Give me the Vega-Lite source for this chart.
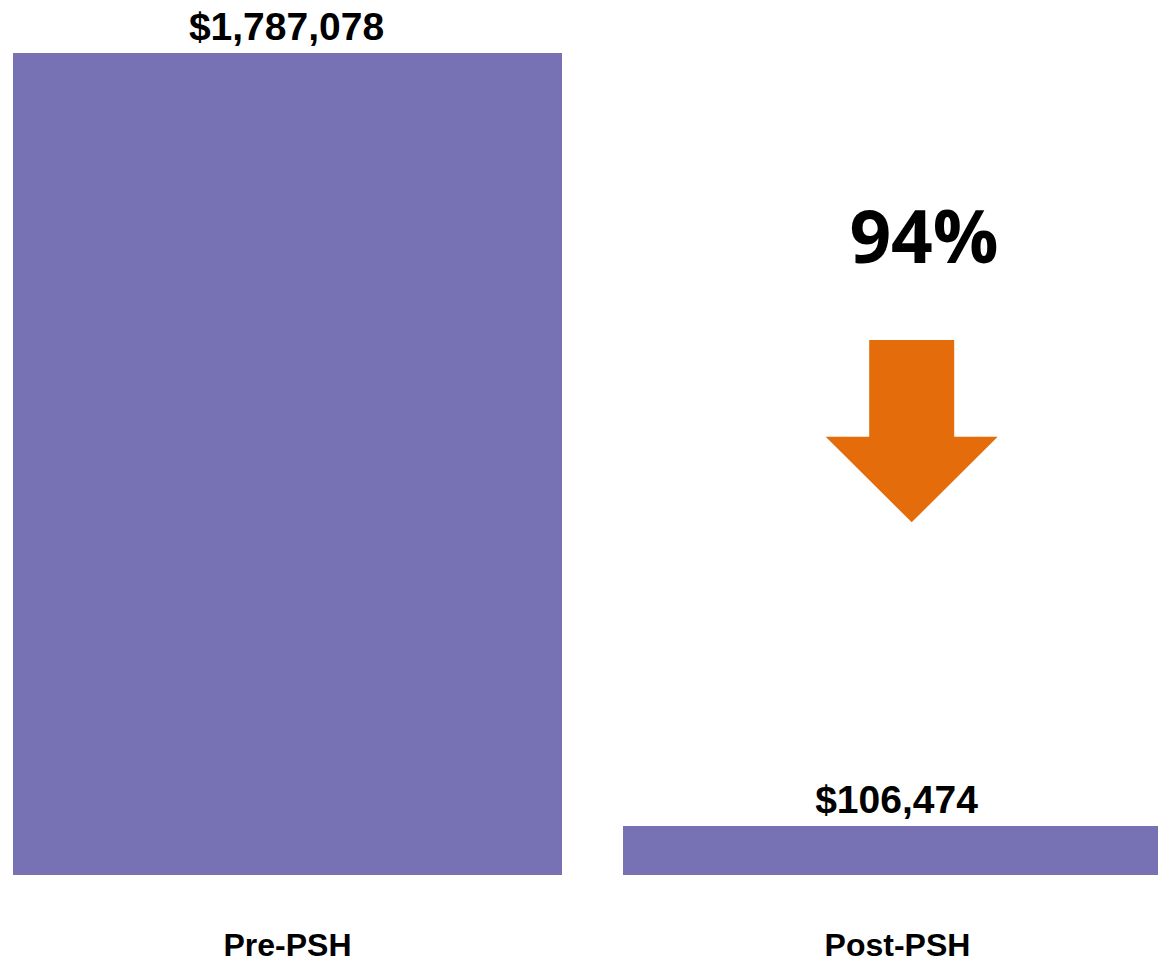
{
  "$schema": "https://vega.github.io/schema/vega-lite/v6.json",
  "autosize": {"type": "none"},
  "padding": {"left": 13, "top": 53, "right": 0, "bottom": 86},
  "width": 1145,
  "height": 822,
  "background": "white",
  "config": {"view": {"stroke": null}},
  "datasets": {
    "bars": [
      {"category": "Pre-PSH", "cost": 1787078},
      {"category": "Post-PSH", "cost": 106474}
    ],
    "notes": [
      {"category": "Post-PSH", "note": "94%", "arrowAt": 964848, "textAt": 1330525}
    ]
  },
  "encoding": {
    "x": {
      "field": "category",
      "type": "nominal",
      "sort": ["Pre-PSH", "Post-PSH"],
      "scale": {"range": [0, 1159], "paddingInner": 0.1, "paddingOuter": 0},
      "axis": {
        "title": null,
        "domain": false,
        "ticks": false,
        "labelAngle": 0,
        "labelFont": "Liberation Sans",
        "labelFontSize": 32,
        "labelFontWeight": "bold",
        "labelColor": "#000000",
        "labelPadding": 55
      }
    }
  },
  "layer": [
    {
      "data": {"name": "bars"},
      "mark": {"type": "bar", "color": "#7672B4", "clip": true},
      "encoding": {
        "y": {"field": "cost", "type": "quantitative", "scale": {"domain": [0, 1787078], "nice": false, "zero": true}, "axis": null}
      }
    },
    {
      "data": {"name": "bars"},
      "mark": {"type": "text", "font": "Liberation Sans", "fontSize": 39, "fontWeight": "bold", "color": "#000000", "baseline": "alphabetic", "dy": -13, "dx": -1},
      "encoding": {
        "y": {"field": "cost", "type": "quantitative"},
        "text": {"field": "cost", "type": "quantitative", "format": "$,.0f"}
      }
    },
    {
      "data": {"name": "notes"},
      "mark": {"type": "text", "font": "Open Sans", "fontSize": 73, "fontWeight": "bold", "color": "#000000", "baseline": "alphabetic", "xOffset": 26.5},
      "encoding": {
        "y": {"field": "textAt", "type": "quantitative"},
        "text": {"field": "note", "type": "nominal"}
      }
    },
    {
      "data": {"name": "notes"},
      "mark": {"type": "point", "filled": true, "opacity": 1, "color": "#E46C0A", "strokeWidth": 0, "size": 40000, "xOffset": 14.2,
        "shape": "M-0.425,-0.912 L0.425,-0.912 L0.425,0.055 L0.86,0.055 L0,0.911 L-0.86,0.055 L-0.425,0.055 Z"},
      "encoding": {
        "y": {"field": "arrowAt", "type": "quantitative"}
      }
    }
  ]
}
